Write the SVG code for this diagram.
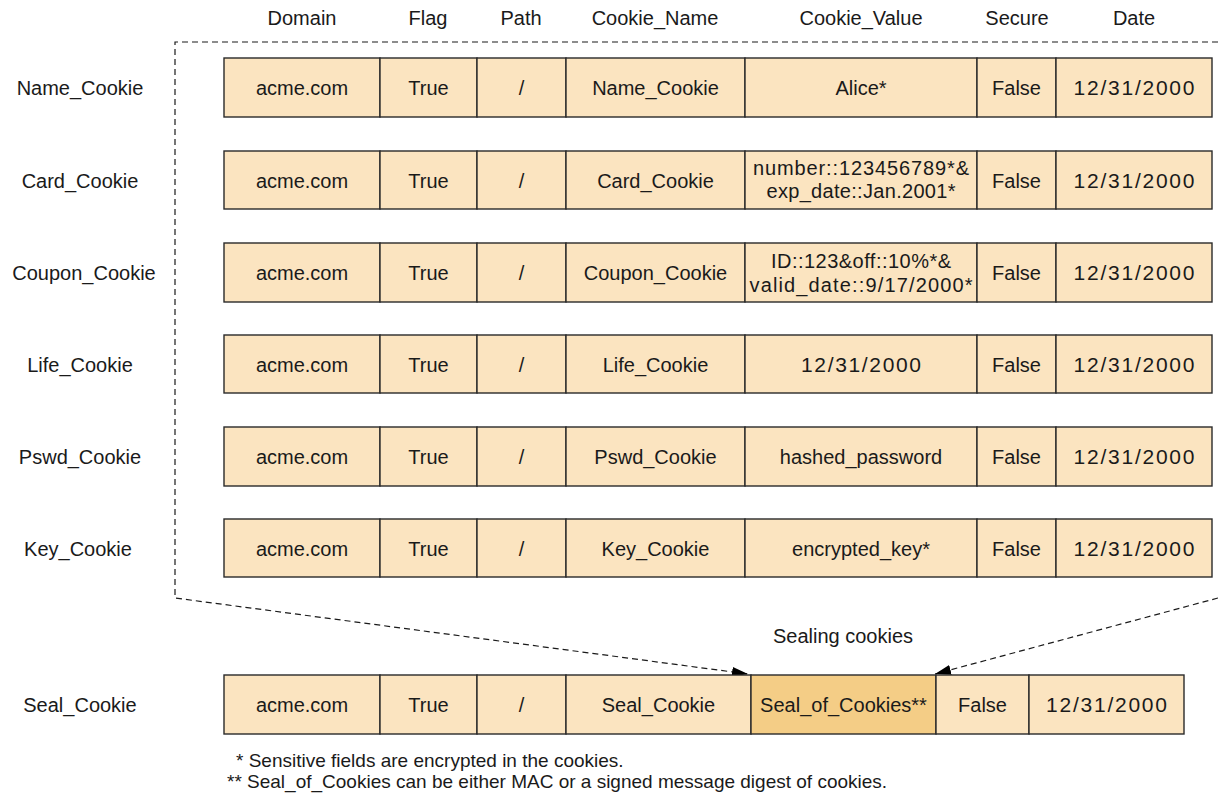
<svg xmlns="http://www.w3.org/2000/svg" width="1218" height="796" viewBox="0 0 1218 796">
<defs>
<style>
text{font-family:"Liberation Sans",Arial,sans-serif;font-size:20px;fill:#1a1a1a;text-anchor:middle}
.c{fill:#fbe4c0;stroke:#2a2a2a;stroke-width:1.4}
.s{fill:#f4cd86;stroke:#2a2a2a;stroke-width:1.4}
.d{fill:none;stroke:#1a1a1a;stroke-width:1.2;stroke-dasharray:6 4}
.n{font-size:21px}
.fn{text-anchor:start;font-size:19px}
</style>
<marker id="ah" viewBox="0 0 16 10" refX="16" refY="5" markerWidth="16" markerHeight="10" markerUnits="userSpaceOnUse" orient="auto">
<path d="M0,0 L16,5 L0,10 z" fill="#000"/>
</marker>
</defs>
<rect width="1218" height="796" fill="#fff"/>
<g id="header">
<text x="302" y="25">Domain</text>
<text x="428" y="25">Flag</text>
<text x="521" y="25">Path</text>
<text x="655" y="25">Cookie_Name</text>
<text x="861" y="25">Cookie_Value</text>
<text x="1017" y="25">Secure</text>
<text x="1134" y="25">Date</text>
</g>
<g id="connectors">
<path class="d" d="M1218,42 H175 V598 L748,674" marker-end="url(#ah)"/>
<path class="d" d="M1218,598 L935,674" marker-end="url(#ah)"/>
</g>
<g id="name-cookie">
<text x="80" y="95">Name_Cookie</text>
<rect class="c" x="224" y="58" width="156" height="59"/><rect class="c" x="380" y="58" width="97" height="59"/><rect class="c" x="477" y="58" width="89" height="59"/><rect class="c" x="566" y="58" width="179" height="59"/><rect class="c" x="745" y="58" width="232" height="59"/><rect class="c" x="977" y="58" width="79" height="59"/><rect class="c" x="1056" y="58" width="156" height="59"/>
<text x="302" y="95">acme.com</text><text x="428.5" y="95">True</text><text x="521.5" y="95">/</text><text x="655.5" y="95">Name_Cookie</text><text x="861" y="95">Alice*</text><text x="1016.5" y="95">False</text><text class="n" x="1134" y="95" textLength="121" lengthAdjust="spacing">12/31/2000</text>
</g>
<g id="card-cookie">
<text x="80" y="188">Card_Cookie</text>
<rect class="c" x="224" y="151" width="156" height="58"/><rect class="c" x="380" y="151" width="97" height="58"/><rect class="c" x="477" y="151" width="89" height="58"/><rect class="c" x="566" y="151" width="179" height="58"/><rect class="c" x="745" y="151" width="232" height="58"/><rect class="c" x="977" y="151" width="79" height="58"/><rect class="c" x="1056" y="151" width="156" height="58"/>
<text x="302" y="188">acme.com</text><text x="428.5" y="188">True</text><text x="521.5" y="188">/</text><text x="655.5" y="188">Card_Cookie</text><text x="861" y="175" textLength="216" lengthAdjust="spacing">number::123456789*&amp;</text><text x="861" y="198" textLength="189" lengthAdjust="spacing">exp_date::Jan.2001*</text><text x="1016.5" y="188">False</text><text class="n" x="1134" y="188" textLength="121" lengthAdjust="spacing">12/31/2000</text>
</g>
<g id="coupon-cookie">
<text x="84" y="280">Coupon_Cookie</text>
<rect class="c" x="224" y="243" width="156" height="59"/><rect class="c" x="380" y="243" width="97" height="59"/><rect class="c" x="477" y="243" width="89" height="59"/><rect class="c" x="566" y="243" width="179" height="59"/><rect class="c" x="745" y="243" width="232" height="59"/><rect class="c" x="977" y="243" width="79" height="59"/><rect class="c" x="1056" y="243" width="156" height="59"/>
<text x="302" y="280">acme.com</text><text x="428.5" y="280">True</text><text x="521.5" y="280">/</text><text x="655.5" y="280">Coupon_Cookie</text><text x="861" y="268" textLength="180" lengthAdjust="spacing">ID::123&amp;off::10%*&amp;</text><text x="861" y="292" textLength="223" lengthAdjust="spacing">valid_date::9/17/2000*</text><text x="1016.5" y="280">False</text><text class="n" x="1134" y="280" textLength="121" lengthAdjust="spacing">12/31/2000</text>
</g>
<g id="life-cookie">
<text x="80" y="372">Life_Cookie</text>
<rect class="c" x="224" y="335" width="156" height="58"/><rect class="c" x="380" y="335" width="97" height="58"/><rect class="c" x="477" y="335" width="89" height="58"/><rect class="c" x="566" y="335" width="179" height="58"/><rect class="c" x="745" y="335" width="232" height="58"/><rect class="c" x="977" y="335" width="79" height="58"/><rect class="c" x="1056" y="335" width="156" height="58"/>
<text x="302" y="372">acme.com</text><text x="428.5" y="372">True</text><text x="521.5" y="372">/</text><text x="655.5" y="372">Life_Cookie</text><text class="n" x="861" y="372" textLength="120" lengthAdjust="spacing">12/31/2000</text><text x="1016.5" y="372">False</text><text class="n" x="1134" y="372" textLength="121" lengthAdjust="spacing">12/31/2000</text>
</g>
<g id="pswd-cookie">
<text x="80" y="464">Pswd_Cookie</text>
<rect class="c" x="224" y="427" width="156" height="59"/><rect class="c" x="380" y="427" width="97" height="59"/><rect class="c" x="477" y="427" width="89" height="59"/><rect class="c" x="566" y="427" width="179" height="59"/><rect class="c" x="745" y="427" width="232" height="59"/><rect class="c" x="977" y="427" width="79" height="59"/><rect class="c" x="1056" y="427" width="156" height="59"/>
<text x="302" y="464">acme.com</text><text x="428.5" y="464">True</text><text x="521.5" y="464">/</text><text x="655.5" y="464">Pswd_Cookie</text><text x="861" y="464">hashed_password</text><text x="1016.5" y="464">False</text><text class="n" x="1134" y="464" textLength="121" lengthAdjust="spacing">12/31/2000</text>
</g>
<g id="key-cookie">
<text x="78" y="556">Key_Cookie</text>
<rect class="c" x="224" y="519" width="156" height="58"/><rect class="c" x="380" y="519" width="97" height="58"/><rect class="c" x="477" y="519" width="89" height="58"/><rect class="c" x="566" y="519" width="179" height="58"/><rect class="c" x="745" y="519" width="232" height="58"/><rect class="c" x="977" y="519" width="79" height="58"/><rect class="c" x="1056" y="519" width="156" height="58"/>
<text x="302" y="556">acme.com</text><text x="428.5" y="556">True</text><text x="521.5" y="556">/</text><text x="655.5" y="556">Key_Cookie</text><text x="861" y="556">encrypted_key*</text><text x="1016.5" y="556">False</text><text class="n" x="1134" y="556" textLength="121" lengthAdjust="spacing">12/31/2000</text>
</g>
<g id="sealing-label"><text x="843" y="643">Sealing cookies</text></g>
<g id="seal-cookie">
<text x="80" y="712">Seal_Cookie</text>
<rect class="c" x="224" y="675" width="156" height="59"/><rect class="c" x="380" y="675" width="97" height="59"/><rect class="c" x="477" y="675" width="89" height="59"/><rect class="c" x="566" y="675" width="185" height="59"/><rect class="s" x="751" y="675" width="185" height="59"/><rect class="c" x="936" y="675" width="93" height="59"/><rect class="c" x="1029" y="675" width="155" height="59"/>
<text x="302" y="712">acme.com</text><text x="428.5" y="712">True</text><text x="521.5" y="712">/</text><text x="658.5" y="712">Seal_Cookie</text><text x="843.5" y="712">Seal_of_Cookies**</text><text x="982.5" y="712">False</text><text class="n" x="1106.5" y="712" textLength="121" lengthAdjust="spacing">12/31/2000</text>
</g>
<g id="footnotes">
<text class="fn" x="236" y="767">* Sensitive fields are encrypted in the cookies.</text>
<text class="fn" x="227" y="788">** Seal_of_Cookies can be either MAC or a signed message digest of cookies.</text>
</g>
</svg>
